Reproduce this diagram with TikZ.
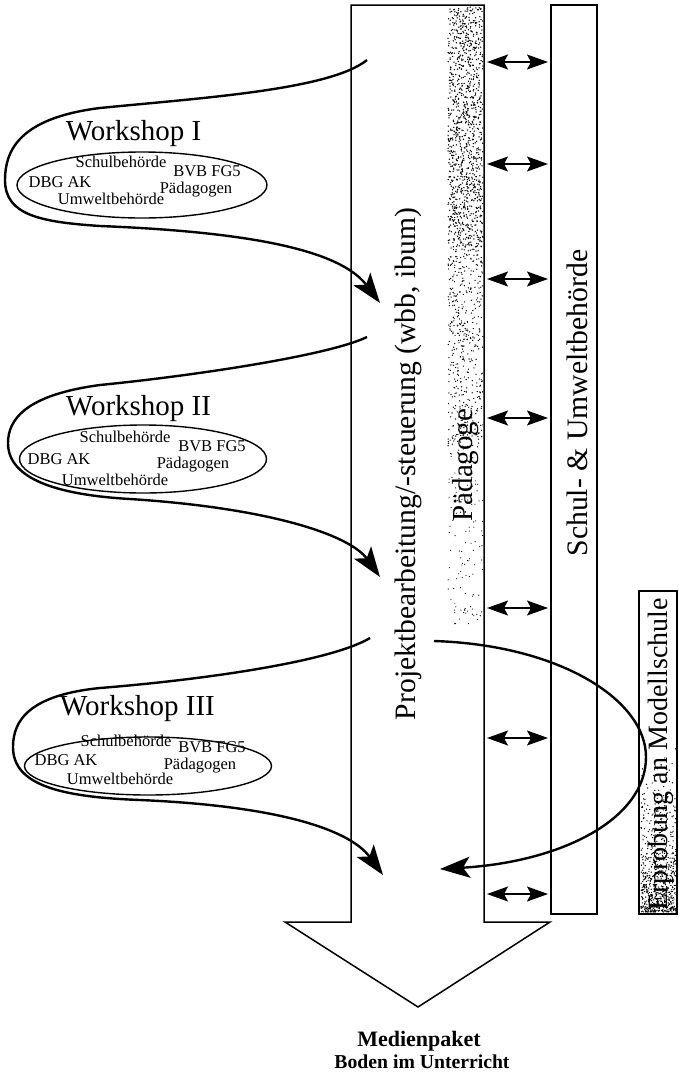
\documentclass[tikz,border=0pt]{standalone}
\usepackage{fontspec}
\setmainfont{Liberation Serif}
\usetikzlibrary{arrows.meta,shapes.geometric}
\begin{document}
\begin{tikzpicture}[x=1pt,y=-1pt,
  flow/.style={line width=2.4pt, -{Stealth[length=30pt,width=21pt,inset=7pt]}},
  dbl/.style={line width=1.2pt, {Stealth[length=21pt,width=15pt,inset=4pt]}-{Stealth[length=21pt,width=15pt,inset=4pt]}},
  outline/.style={draw, line width=1.5pt},
  wslabel/.style={font=\fontsize{29}{33}\selectfont, anchor=base, inner sep=0pt},
  member/.style={font=\fontsize{16.5}{18}\selectfont, anchor=base, inner sep=0pt},
  vlabel/.style={font=\fontsize{29.6}{33}\selectfont, rotate=90, anchor=base, inner sep=0pt},
  group/.style={draw, line width=1.4pt},
  speck/.style={fill=black}
]
\useasboundingbox (0,0) rectangle (679,1076);

% big flow arrow (shaft + head)
\fill[white] (351,5) -- (484,5) -- (484,922) -- (550,922) -- (418,1007) -- (285,922) -- (351,922) -- cycle;

% Paedagoge stipple band
\pgfmathsetseed{7}
\foreach \i in {1,...,1100}{
  \pgfmathsetmacro\px{448+35*rnd}
  \pgfmathsetmacro\py{7+240*rnd}
  \fill[speck] (\px,\py) circle[radius=0.75pt];
}
\foreach \i in {1,...,450}{
  \pgfmathsetmacro\px{448+35*rnd}
  \pgfmathsetmacro\py{247+200*rnd}
  \fill[speck] (\px,\py) circle[radius=0.7pt];
}
\foreach \i in {1,...,120}{
  \pgfmathsetmacro\px{448+35*rnd}
  \pgfmathsetmacro\py{447+180*rnd}
  \fill[speck] (\px,\py) circle[radius=0.6pt];
}

\draw[outline] (351,5) -- (484,5) -- (484,922) -- (550,922) -- (418,1007) -- (285,922) -- (351,922) -- cycle;

% Schul- & Umweltbehoerde box
\node[outline, minimum width=46pt, minimum height=909pt, inner sep=0pt] (schul) at (574,459.5) {};
% Erprobung box with stipple
\foreach \i in {1,...,700}{
  \pgfmathsetmacro\px{641+35*rnd}
  \pgfmathsetmacro\py{912-170*rnd*rnd}
  \fill[speck] (\px,\py) circle[radius=0.7pt];
}
\node[outline, minimum width=38pt, minimum height=323pt, inner sep=0pt] (erprob) at (658,752.5) {};

% vertical labels
\node[vlabel] (proj) at (415,464) {Projektbearbeitung/-steuerung (wbb, ibum)};
\node[vlabel, font=\fontsize{29}{33}\selectfont] (paed) at (472,465) {Pädagoge};
\node[vlabel, font=\fontsize{29.7}{33}\selectfont] (schultext) at (587,403) {Schul- \& Umweltbehörde};
\node[vlabel, font=\fontsize{28}{32}\selectfont] (erprobtext) at (667,754.5) {Erprobung an Modellschule};

% double arrows between project and authorities
\foreach \yy [count=\k] in {62,164,279,418,608,738,894}{
  \coordinate (dl\k) at (487,\yy);
  \coordinate (dr\k) at (548,\yy);
  \draw[dbl] (dl\k) -- (dr\k);
}

% Workshop I
\node[wslabel] (ws1) at (133.5,140) {Workshop I};
\node[group, ellipse, minimum width=250pt, minimum height=66pt, inner sep=0pt] (g1) at (142,185) {};
\node[member] (s1) at (121,167) {Schulbehörde};
\node[member] (b1) at (207,176) {BVB FG5};
\node[member] (d1) at (60,187) {DBG AK};
\node[member] (p1) at (196,193) {Pädagogen};
\node[member] (u1) at (111,204) {Umweltbehörde};
\coordinate (w1s) at (367,60);
\coordinate (w1e) at (380,303);
\draw[flow] (w1s) .. controls (330,90) and (200,98) .. (100,108)
  .. controls (20,118) and (5,150) .. (5,180)
  .. controls (5,215) and (40,222) .. (100,226)
  .. controls (250,232) and (340,250) .. (w1e);

% Workshop II
\node[wslabel] (ws2) at (138.5,415) {Workshop II};
\node[group, ellipse, minimum width=247pt, minimum height=68pt, inner sep=0pt] (g2) at (143,459) {};
\node[member] (s2) at (125,442) {Schulbehörde};
\node[member] (b2) at (212,451) {BVB FG5};
\node[member] (d2) at (59,464) {DBG AK};
\node[member] (p2) at (193,468) {Pädagogen};
\node[member] (u2) at (115,485) {Umweltbehörde};
\coordinate (w2s) at (367,337);
\coordinate (w2e) at (380,577);
\draw[flow] (w2s) .. controls (330,355) and (200,375) .. (100,385)
  .. controls (25,395) and (8,420) .. (8,443)
  .. controls (8,480) and (60,495) .. (130,499)
  .. controls (270,508) and (350,535) .. (w2e);

% Workshop III
\node[wslabel] (ws3) at (137.5,715) {Workshop III};
\node[group, ellipse, minimum width=247pt, minimum height=58pt, inner sep=0pt] (g3) at (148,766) {};
\node[member] (s3) at (126,746) {Schulbehörde};
\node[member] (b3) at (212,752) {BVB FG5};
\node[member] (d3) at (66,765) {DBG AK};
\node[member] (p3) at (200,769) {Pädagogen};
\node[member] (u3) at (120,784) {Umweltbehörde};
\coordinate (w3s) at (370,638);
\coordinate (w3e) at (383,875);
\draw[flow] (w3s) .. controls (330,662) and (200,680) .. (100,688)
  .. controls (30,695) and (13,720) .. (13,747)
  .. controls (13,785) and (60,797) .. (140,800)
  .. controls (280,806) and (350,830) .. (w3e);

% loop to Modellschule and back
\coordinate (ls) at (434,641);
\coordinate (lm) at (646,757);
\coordinate (le) at (440,869);
\draw[flow] (ls) .. controls (560,645) and (646,700) .. (lm)
  .. controls (646,820) and (560,862) .. (le);

% result
\node[font=\bfseries\fontsize{22}{24}\selectfont, anchor=base, inner sep=0pt] (med) at (419,1046) {Medienpaket};
\node[font=\bfseries\fontsize{19.7}{22}\selectfont, anchor=base, inner sep=0pt] (boden) at (422,1068) {Boden im Unterricht};
\end{tikzpicture}
\end{document}
